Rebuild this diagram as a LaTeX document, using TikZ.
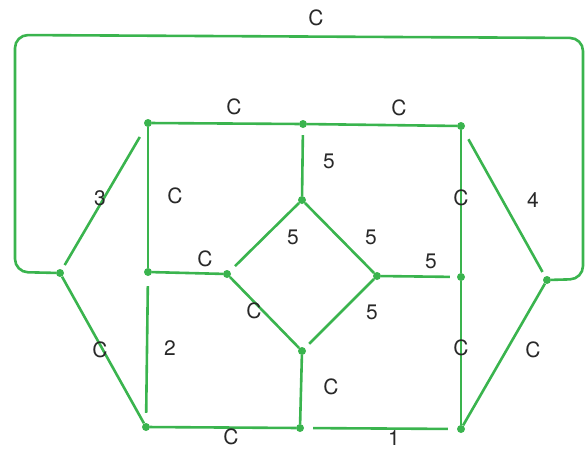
\documentclass[tikz,border=0pt]{standalone}
\usepackage{fontspec}
\setmainfont{TeX Gyre Heros}
\definecolor{lgreen}{RGB}{58,180,78}
\definecolor{ltext}{RGB}{40,40,40}
\begin{document}
\begin{tikzpicture}[x=1pt,y=-1pt,
  dot/.style={circle,fill=lgreen,inner sep=0pt,minimum size=8pt},
  edge/.style={draw=lgreen,line width=2.6pt},
  lbl/.style={text=ltext,font=\fontsize{21}{24}\selectfont,inner sep=0pt}]
\useasboundingbox (0,0) rectangle (585,450);
% vertices
\node[dot] (A) at (148,123) {};
\node[dot] (B) at (303,124) {};
\node[dot] (D) at (461,126) {};
\node[dot] (E) at (60,273) {};
\node[dot] (F) at (148,272) {};
\node[dot] (G) at (227,274) {};
\node[dot] (H) at (302,200) {};
\node[dot] (I) at (377,276) {};
\node[dot] (J) at (302,351) {};
\node[dot] (K) at (461,277) {};
\node[dot] (L) at (547,280) {};
\node[dot] (M) at (146,427) {};
\node[dot] (N) at (300,428) {};
\node[dot] (O) at (461,429) {};
% edges
\draw[edge] (A) -- (B);
\draw[edge] (B) -- (D);
\draw[edge] (A) -- (F);
\draw[edge,shorten <=7pt] (B) -- (H);
\draw[edge] (D) -- (K);
\draw[edge] (K) -- (O);
\draw[edge,shorten <=11pt,shorten >=5pt] (D) -- (L);
\draw[edge] (L) -- (O);
\draw[edge,shorten <=5pt,shorten >=12pt] (E) -- (A);
\draw[edge] (E) -- (M);
\draw[edge,shorten <=10pt,shorten >=10pt] (F) -- (M);
\draw[edge] (F) -- (G);
\draw[edge,shorten <=7pt] (G) -- (H);
\draw[edge] (H) -- (I);
\draw[edge] (G) -- (J);
\draw[edge,shorten >=6pt] (I) -- (J);
\draw[edge,shorten >=7pt] (I) -- (K);
\draw[edge] (J) -- (N);
\draw[edge] (M) -- (N);
\draw[edge,shorten <=9pt,shorten >=9pt] (N) -- (O);
% outer loop
\draw[edge,rounded corners=13pt] (E) -- (15,272) -- (15,35) -- (583,38) -- (583,279) -- (L);
% labels
\node[lbl] (t0) at (316,18) {C};
\node[lbl] (t1) at (234,107) {C};
\node[lbl] (t2) at (399,108) {C};
\node[lbl] (t3) at (175,196) {C};
\node[lbl] (t4) at (100,198) {3};
\node[lbl] (t5) at (329,161) {5};
\node[lbl] (t6) at (461,198) {C};
\node[lbl] (t7) at (533,200) {4};
\node[lbl] (t8) at (293,237) {5};
\node[lbl] (t9) at (371,237) {5};
\node[lbl] (t10) at (205,259) {C};
\node[lbl] (t11) at (431,261) {5};
\node[lbl] (t12) at (254,311) {C};
\node[lbl] (t13) at (372,312) {5};
\node[lbl] (t14) at (100,350) {C};
\node[lbl] (t15) at (170,348) {2};
\node[lbl] (t16) at (331,387) {C};
\node[lbl] (t17) at (461,348) {C};
\node[lbl] (t18) at (533,350) {C};
\node[lbl] (t19) at (231,437) {C};
\node[lbl] (t20) at (394,438) {1};
\end{tikzpicture}
\end{document}
